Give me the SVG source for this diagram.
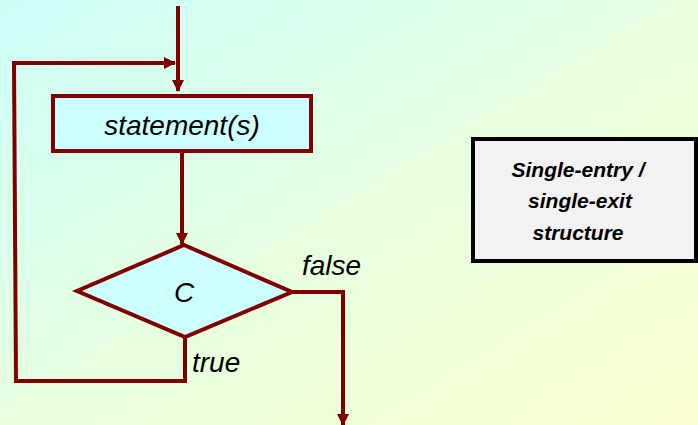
<svg xmlns="http://www.w3.org/2000/svg" width="698" height="425" viewBox="0 0 698 425">
<defs>
<linearGradient id="bg" x1="0" y1="0" x2="1" y2="1">
<stop offset="0" stop-color="#ccfff9"/>
<stop offset="0.5" stop-color="#e6ffe0"/>
<stop offset="1" stop-color="#fbfed0"/>
</linearGradient>
<marker id="arr" markerWidth="12" markerHeight="12" viewBox="0 0 12 12" refX="11" refY="6" orient="auto" markerUnits="userSpaceOnUse">
<path d="M0,0 L12,6 L0,12 Z" fill="#800000"/>
</marker>
<style>
.ln{fill:none;stroke:#800000;stroke-width:4}
.t{font-family:"Liberation Sans",Arial,sans-serif;font-style:italic;font-size:28px;fill:#000}
.b{font-family:"Liberation Sans",Arial,sans-serif;font-style:italic;font-weight:bold;font-size:21px;fill:#000;text-anchor:middle}
</style>
</defs>
<rect width="698" height="425" fill="url(#bg)"/>
<g id="connectors">
<line class="ln" x1="178" y1="6" x2="178" y2="91" marker-end="url(#arr)"/>
<line class="ln" x1="182" y1="152" x2="182" y2="244" marker-end="url(#arr)"/>
<polyline class="ln" points="185,337 185,381 16,381 14,63 175,63" marker-end="url(#arr)"/>
<polyline class="ln" points="292,292 343,292 343,425" marker-end="url(#arr)"/>
</g>
<g id="statement">
<rect x="53" y="96" width="258" height="55" fill="#ccffff" stroke="#800000" stroke-width="4"/>
<text class="t" x="182" y="135" text-anchor="middle">statement(s)</text>
</g>
<g id="condition">
<polygon points="184,245 292,292 185,337 77,291" fill="#ccffff" stroke="#800000" stroke-width="4" stroke-linejoin="miter"/>
<text class="t" x="184" y="302" text-anchor="middle">C</text>
</g>
<g id="label-false"><text class="t" x="302" y="275">false</text></g>
<g id="label-true"><text class="t" x="192" y="372">true</text></g>
<g id="note">
<rect x="473" y="139" width="223" height="122" fill="#f2f2f2" stroke="#000" stroke-width="4"/>
<text class="b" x="578" y="177">Single-entry /</text>
<text class="b" x="580" y="208">single-exit</text>
<text class="b" x="578" y="240">structure</text>
</g>
</svg>
